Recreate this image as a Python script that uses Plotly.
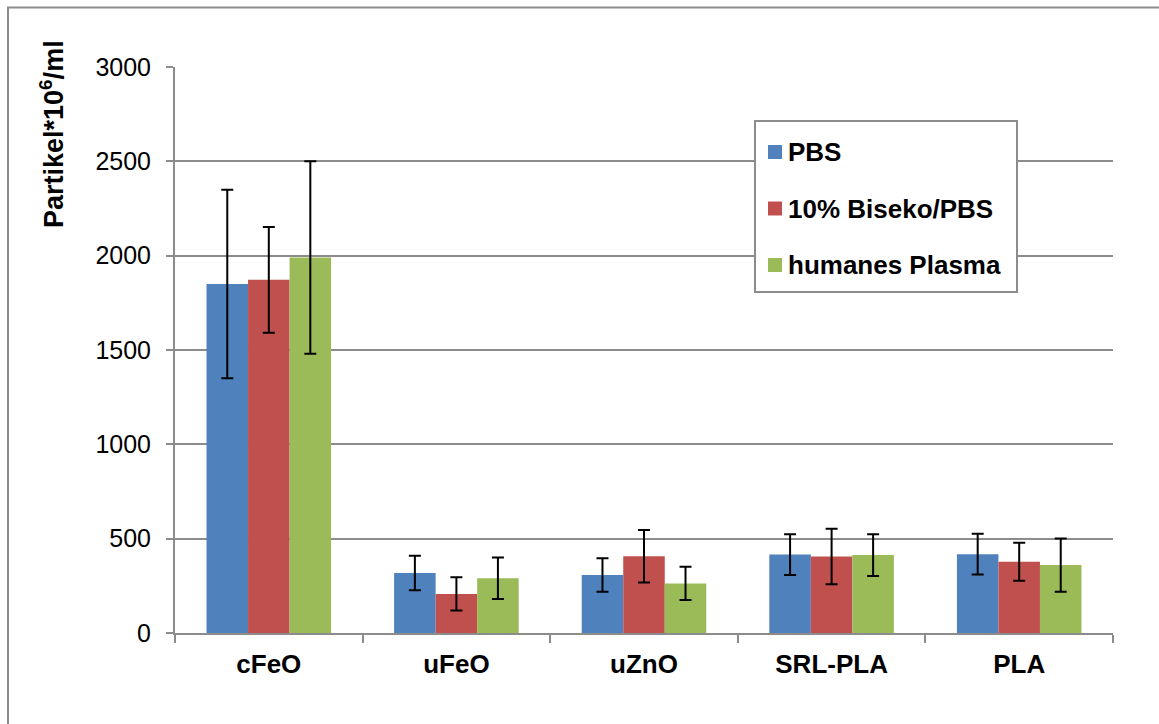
import plotly.graph_objects as go

# Particle counts per material, three media
categories = ["cFeO", "uFeO", "uZnO", "SRL-PLA", "PLA"]
series_names = ["PBS", "10% Biseko/PBS", "humanes Plasma"]
pbs_values = [1850, 318, 307, 416, 418]
pbs_errors = [500, 91, 89, 108, 108]
biseko_values = [1872, 207, 407, 405, 378]
biseko_errors = [280, 88, 139, 147, 101]
plasma_values = [1990, 290, 263, 413, 360]
plasma_errors = [510, 110, 88, 111, 141]
colors = ["#4F81BD", "#C0504D", "#9BBB59"]
y_ticks = [0, 500, 1000, 1500, 2000, 2500, 3000]

W, H = 1159, 724
L, R, T, B = 175, 1113, 67, 633
pw, ph = R - L, B - T

def px_x(x):
    return (x - L) / pw

def px_y(y):
    return (B - y) / ph

fig = go.Figure()
for i, (name, vals, errs) in enumerate(zip(series_names,
                                           [pbs_values, biseko_values, plasma_values],
                                           [pbs_errors, biseko_errors, plasma_errors])):
    fig.add_trace(go.Bar(
        x=categories, y=vals, name=name,
        marker=dict(color=colors[i], line=dict(width=0)),
        error_y=dict(type="data", array=errs, visible=True,
                     color="black", thickness=2, width=6),
        showlegend=False,
    ))

grid = "#8C8C8C"
font = "Liberation Sans, Arial, sans-serif"

fig.update_layout(
    width=W, height=H,
    margin=dict(l=L, r=W - R, t=T, b=H - B, autoexpand=False),
    paper_bgcolor="white", plot_bgcolor="white",
    barmode="group", bargap=0.336, bargroupgap=0,
    font=dict(family=font, color="black"),
    showlegend=False,
)

fig.update_yaxes(
    range=[0, 3000], tickvals=y_ticks, ticktext=[str(v) for v in y_ticks],
    showgrid=True, gridcolor=grid, gridwidth=2,
    showline=True, linecolor=grid, linewidth=2,
    ticks="outside", ticklen=7, tickcolor=grid, tickwidth=2,
    tickfont=dict(size=25, family=font, color="black"),
    ticklabelstandoff=10, zeroline=False,
)
fig.update_xaxes(
    showgrid=False, showline=True, linecolor=grid, linewidth=2,
    ticks="outside", tickson="boundaries", ticklen=8, tickcolor=grid, tickwidth=2,
    tickfont=dict(size=26, family=font, color="black", weight="bold"),
    ticklabelstandoff=7,
)

# Y-axis title placed near the top of the axis
fig.add_annotation(
    text="Partikel*10<sup>6</sup>/ml", textangle=-90,
    xref="paper", yref="paper", x=px_x(52), y=px_y(134),
    xanchor="center", yanchor="middle", showarrow=False,
    font=dict(size=27, family=font, color="black", weight="bold"),
)

# Legend box with colour swatches and series names
fig.add_shape(type="rect", xref="paper", yref="paper",
              x0=px_x(755), x1=px_x(1017), y0=px_y(292), y1=px_y(121),
              line=dict(color=grid, width=2), fillcolor="white", layer="above")
for i, name in enumerate(series_names):
    cy = 152 + i * 56.5
    fig.add_shape(type="rect", xref="paper", yref="paper",
                  x0=px_x(768), x1=px_x(782), y0=px_y(cy + 7), y1=px_y(cy - 7),
                  line=dict(width=0), fillcolor=colors[i], layer="above")
    fig.add_annotation(
        text=name, xref="paper", yref="paper", x=px_x(786), y=px_y(cy),
        xanchor="left", yanchor="middle", showarrow=False,
        font=dict(size=26, family=font, color="black", weight="bold"),
    )

# Chart frame
fig.add_shape(type="rect", xref="paper", yref="paper",
              x0=px_x(8), x1=px_x(1175), y0=px_y(740), y1=px_y(7.5),
              line=dict(color=grid, width=2), fillcolor="rgba(0,0,0,0)",
              layer="below")

fig.write_html("out.html")
